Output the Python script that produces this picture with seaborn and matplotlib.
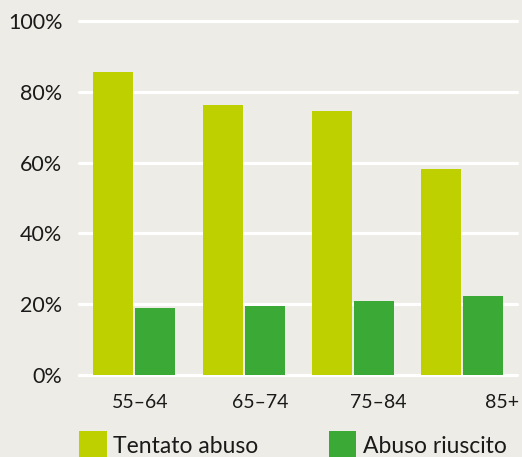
import matplotlib
matplotlib.use("Agg")
import matplotlib.pyplot as plt
import matplotlib.transforms as mtransforms
import seaborn as sns
import pandas as pd

categories = ["55–64", "65–74", "75–84", "85+"]
series_names = ["Tentato abuso", "Abuso riuscito"]
tentato = [85.6, 76.3, 74.6, 58.2]
riuscito = [18.9, 19.6, 20.9, 22.3]
y_ticks = [0, 20, 40, 60, 80, 100]
y_labels = ["0%", "20%", "40%", "60%", "80%", "100%"]

colors = ["#BFD000", "#3AA935"]
bg = "#EDECE6"
txt = "#1A1A1A"

df = pd.DataFrame({
    "cat": categories * 2,
    "serie": [series_names[0]] * 4 + [series_names[1]] * 4,
    "val": tentato + riuscito,
})

sns.set_theme(style="white")
plt.rcParams["font.family"] = ["Lato", "DejaVu Sans"]

fig = plt.figure(figsize=(5.22, 4.57), dpi=100, facecolor=bg)
ax = fig.add_axes([79 / 522, (457 - 375) / 457, (517 - 79) / 522, (375 - 21) / 457])
ax.set_facecolor(bg)

sns.barplot(data=df, x="cat", y="val", hue="serie", palette=colors,
            width=0.768, gap=0.05, ax=ax, saturation=1, linewidth=0,
            legend=True, zorder=3)

ax.set_ylim(0, 100)
ax.set_xlim(-0.505, 3.5)
ax.set_yticks(y_ticks)
ax.set_yticklabels(y_labels)
ax.yaxis.grid(True, color="white", linewidth=2.3, zorder=0)
ax.set_axisbelow(True)
for s in ax.spines.values():
    s.set_visible(False)
for gl in ax.get_ygridlines():
    gl.set_clip_on(False)
ax.tick_params(axis="y", length=0, pad=12, labelsize=15.5, labelcolor=txt)
ax.tick_params(axis="x", length=0, pad=14, labelsize=14, labelcolor=txt)
ax.set_xlabel("")
ax.set_ylabel("")

offsets_px = [6, 16.5, 25.5, 40]
for lab, off in zip(ax.get_xticklabels(), offsets_px):
    lab.set_transform(lab.get_transform() + mtransforms.ScaledTranslation(off / 100, 0, fig.dpi_scale_trans))

leg = ax.legend(loc="upper left", bbox_to_anchor=(79 / 522, (457 - 431) / 457),
                bbox_transform=fig.transFigure, ncol=2, frameon=False,
                fontsize=16.5, handlelength=1.2, handleheight=1.6,
                handletextpad=0.3, columnspacing=3.05, borderpad=0, borderaxespad=0)
for t in leg.get_texts():
    t.set_color(txt)

fig.savefig("out.png", dpi=100, facecolor=bg)
